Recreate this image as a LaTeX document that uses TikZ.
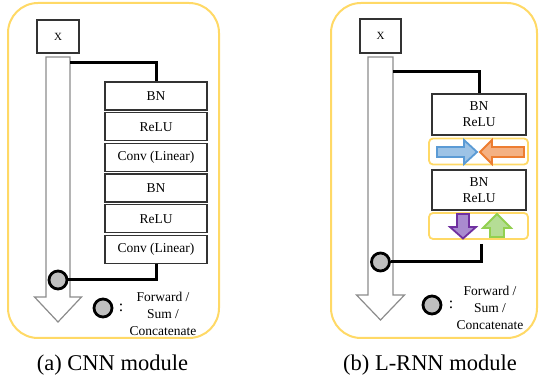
\documentclass[tikz,border=0pt]{standalone}
\usepackage{fontspec}
\setmainfont{Liberation Serif}
\usepackage{tikz}
\usetikzlibrary{calc, positioning}
\tikzset{>=latex}
\definecolor{gold}{HTML}{FFD966}
\definecolor{shaftgray}{HTML}{8C8C8C}
\definecolor{dotgray}{HTML}{BFBFBF}
\definecolor{blueline}{HTML}{5B9BD5}
\definecolor{bluefill}{HTML}{9DC3E6}
\definecolor{orangeline}{HTML}{ED7D31}
\definecolor{orangefill}{HTML}{F4B183}
\definecolor{purpleline}{HTML}{7030A0}
\definecolor{purplefill}{HTML}{A98BCF}
\definecolor{greenline}{HTML}{92D050}
\definecolor{greenfill}{HTML}{B5DD95}
\tikzset{
  panel/.style = {draw = gold, line width = 2pt, rounded corners = 30pt},
  bigarrow/.style = {draw = shaftgray, fill = white, line width = 1.2pt},
  link/.style = {draw = black, line width = 3pt},
  layerbox/.style = {draw = black!80, fill = white, line width = 1.4pt, inner sep = 0pt,
    minimum width = 102pt, minimum height = 28pt, font = \fontsize{13.5}{16}\selectfont},
  pairbox/.style = {layerbox, minimum width = 94pt, minimum height = 41pt, align = center},
  dirbox/.style = {draw = gold, fill = white, line width = 1.8pt, rounded corners = 4pt,
    inner sep = 0pt, minimum width = 99pt, minimum height = 26pt},
  sumdot/.style = {circle, draw = black, fill = dotgray, line width = 2.8pt,
    inner sep = 0pt, minimum size = 18pt},
  note/.style = {align = center, inner sep = 0pt, font = \fontsize{13.5}{17}\selectfont},
  caption/.style = {anchor = base, inner sep = 0pt, font = \fontsize{22.5}{26}\selectfont}
}

\begin{document}
\begin{tikzpicture}[x = 1pt, y = -1pt]
\useasboundingbox (0, 0) rectangle (539, 387);

% (a) CNN module
\begin{scope}
\draw[panel] (8, 3) rectangle (219, 338);
\node[layerbox, minimum width = 42pt, minimum height = 33pt, font = \fontsize{11}{13}\selectfont] (xA) at (58, 36.5) {X};
\draw[bigarrow] (46, 57) -- (70, 57) -- (70, 297) -- (81.5, 297) -- (58, 322)
  -- (34.5, 297) -- (46, 297) -- cycle;
\coordinate (tapA) at (70, 63);
\node[layerbox] (bnA) at (156, 96) {BN};
\node[layerbox] (reluA) at (156, 126.7) {ReLU};
\node[layerbox] (convA) at (156, 157.4) {Conv (Linear)};
\node[layerbox] (bnB) at (156, 188.1) {BN};
\node[layerbox] (reluB) at (156, 218.8) {ReLU};
\node[layerbox] (convB) at (156, 249.5) {Conv (Linear)};
\node[sumdot] (sumA) at (58, 280) {};
\draw[link] (tapA) -| (bnA.north);
\draw[link] (convB.south) |- (sumA);
\node[sumdot] (keyA) at (103, 308) {};
\node[note, font = \fontsize{16}{16}\selectfont] (colonA) at (121, 308) {:};
\node[note] (legA) at (163, 314) {Forward /\\Sum /\\Concatenate};
\node[caption] (capA) at (112.5, 371) {(a) CNN module};
\end{scope}

% (b) L-RNN module
\begin{scope}
\draw[panel] (331, 3) rectangle (537, 338);
\node[layerbox, minimum width = 41pt, minimum height = 34pt, font = \fontsize{11}{13}\selectfont] (xB) at (380.5, 36) {X};
\draw[bigarrow] (368, 57) -- (393, 57) -- (393, 295) -- (404.5, 295) -- (380.5, 320)
  -- (356.5, 295) -- (368, 295) -- cycle;
\coordinate (tapB) at (393, 72);
\node[pairbox] (pairA) at (479, 114.5) {BN\\ReLU};
\node[dirbox] (dirA) at (478.5, 151.5) {};
\node[pairbox, minimum height = 40pt] (pairB) at (479, 190) {BN\\ReLU};
\node[dirbox] (dirB) at (478.5, 226) {};
% forward / backward sweeps
\draw[draw = blueline, fill = bluefill, line width = 1.8pt]
  (437, 147) -- (464, 147) -- (464, 140) -- (477, 152) -- (464, 164) -- (464, 157) -- (437, 157) -- cycle;
\draw[draw = orangeline, fill = orangefill, line width = 1.8pt]
  (524, 147) -- (492, 147) -- (492, 140) -- (480, 152) -- (492, 164) -- (492, 157) -- (524, 157) -- cycle;
\draw[draw = purpleline, fill = purplefill, line width = 1.8pt]
  (457, 214) -- (469, 214) -- (469, 227) -- (476, 227) -- (463, 238.5) -- (450, 227) -- (457, 227) -- cycle;
\draw[draw = greenline, fill = greenfill, line width = 1.8pt]
  (490, 237) -- (504, 237) -- (504, 228) -- (511, 228) -- (497, 214) -- (483, 228) -- (490, 228) -- cycle;
\node[sumdot] (sumB) at (380.5, 262) {};
\draw[link] (tapB) -| (pairA.north);
\draw[link] ([xshift = 2.5pt, yshift = -4pt]dirB.south) |- (sumB);
\node[sumdot] (keyB) at (432, 305) {};
\node[note, font = \fontsize{16}{16}\selectfont] (colonB) at (451, 305) {:};
\node[note] (legB) at (490, 308) {Forward /\\Sum /\\Concatenate};
\node[caption] (capB) at (430, 371) {(b) L-RNN module};
\end{scope}
\end{tikzpicture}
\end{document}
